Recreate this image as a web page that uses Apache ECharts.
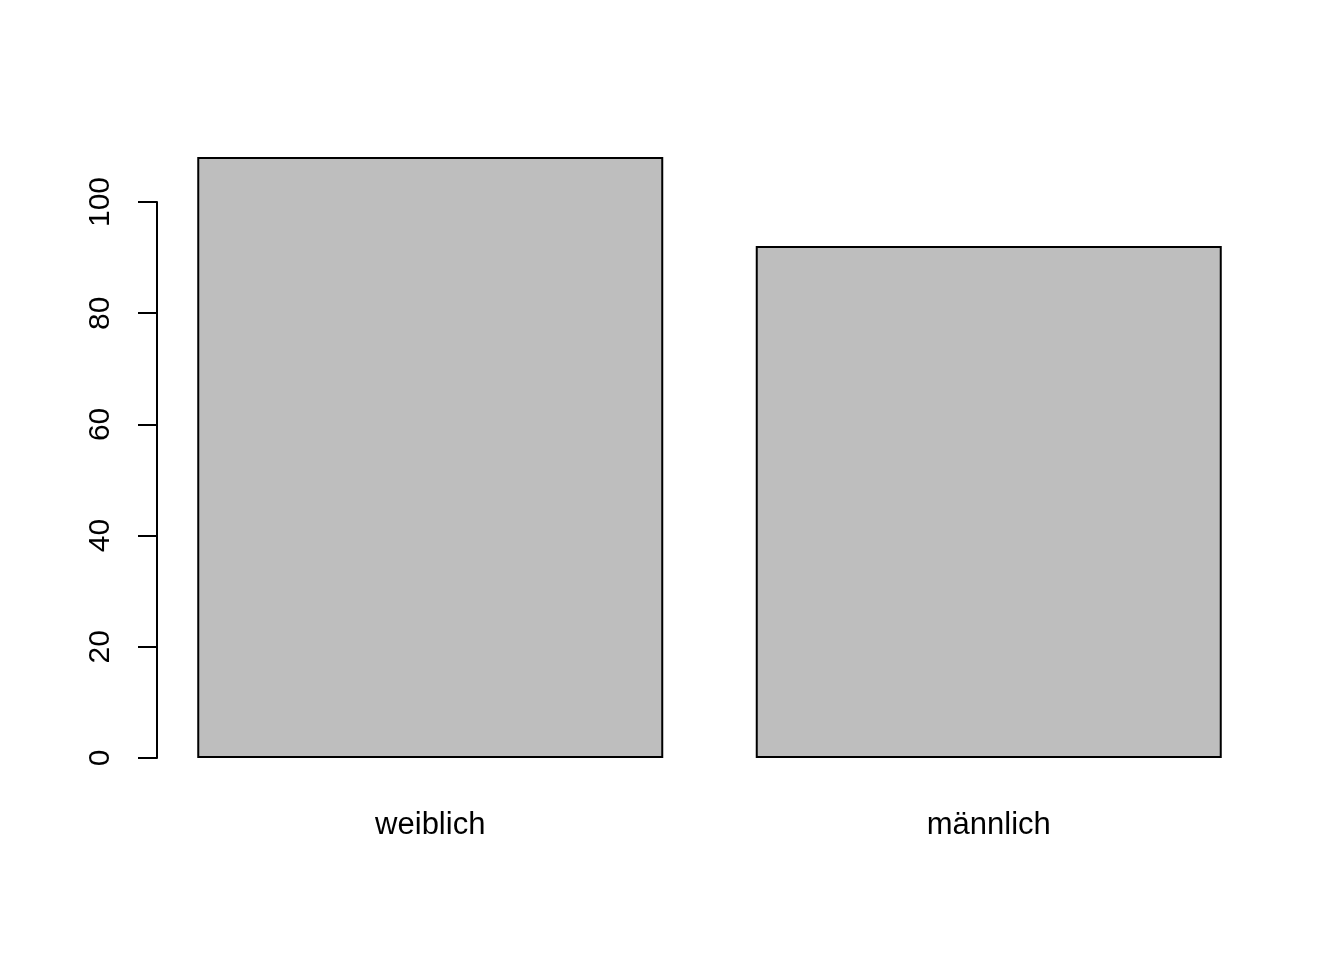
<!DOCTYPE html>
<html>
<head>
<meta charset="utf-8">
<script src="https://cdn.jsdelivr.net/npm/echarts@6/dist/echarts.min.js"></script>
<style>html,body{margin:0;padding:0;background:#fff;}#c{width:1344px;height:960px;}</style>
</head>
<body>
<div id="c"></div>
<script>
const categories = ["weiblich", "männlich"];
const counts = [108, 92];
const yTicks = [0, 20, 40, 60, 80, 100];

const font = "'Liberation Sans', Arial, sans-serif";
const yMax = Math.max(...counts);
const pad = yMax * 0.04;

const chart = echarts.init(document.getElementById('c'), null, {renderer: 'canvas'});
chart.setOption({
  backgroundColor: '#ffffff',
  animation: false,
  grid: [
    {left: 151, right: 76, top: 133, bottom: 178},
    {left: 157, right: 76, top: 202, bottom: 202}
  ],
  xAxis: [
    {
      type: 'category', gridIndex: 0, data: categories,
      axisLine: {show: false}, axisTick: {show: false}, splitLine: {show: false},
      axisLabel: {color: '#000', fontFamily: font, fontSize: 31, margin: 28}
    },
    {type: 'value', gridIndex: 1, show: false}
  ],
  yAxis: [
    {type: 'value', gridIndex: 0, min: -pad, max: yMax + pad, show: false},
    {
      type: 'value', gridIndex: 1, min: yTicks[0], max: yTicks[yTicks.length - 1], interval: 20,
      axisLine: {show: true, lineStyle: {color: '#000', width: 2}},
      axisTick: {show: true, length: 19, lineStyle: {color: '#000', width: 2}},
      splitLine: {show: false},
      axisLabel: {color: '#000', fontFamily: font, fontSize: 30, rotate: 90, margin: 41}
    }
  ],
  series: [{
    type: 'bar', xAxisIndex: 0, yAxisIndex: 0, data: counts, barWidth: 466,
    itemStyle: {color: '#BEBEBE', borderColor: '#000', borderWidth: 2}
  }]
});
</script>
</body>
</html>
